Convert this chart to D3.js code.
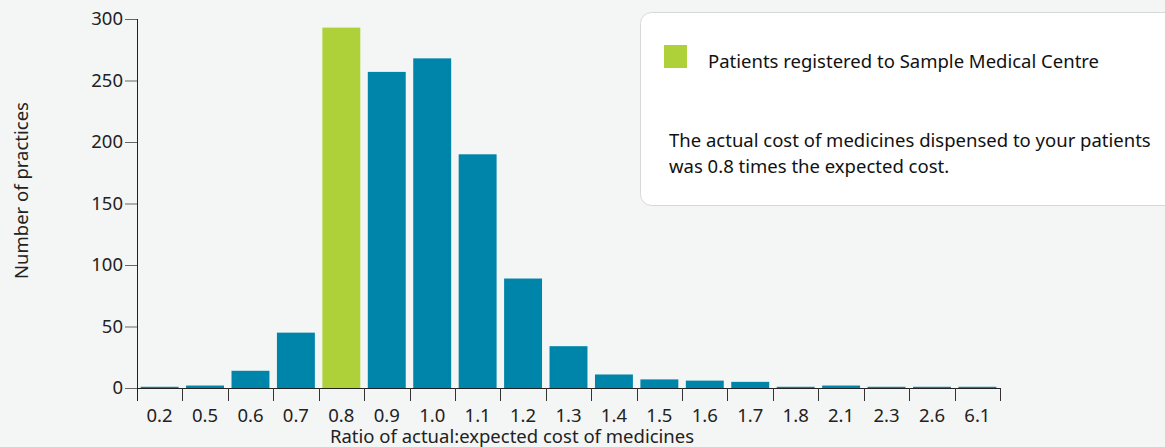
<!DOCTYPE html>
<html><head><meta charset="utf-8">
<script src="https://cdn.jsdelivr.net/npm/d3@7"></script>
<style>
html,body{margin:0;padding:0;background:#f4f6f5;}
svg{display:block;font-family:"Noto Sans",sans-serif;}
</style></head>
<body><svg id="c" width="1165" height="447"></svg>
<script>
const categories = ["0.2","0.5","0.6","0.7","0.8","0.9","1.0","1.1","1.2","1.3","1.4","1.5","1.6","1.7","1.8","2.1","2.3","2.6","6.1"];
const practiceCounts = [1,2,14,45,293,257,268,190,89,34,11,7,6,5,1,2,1,1,1];
const highlightCategory = "0.8";
const yTicks = [0,50,100,150,200,250,300];
const legendLabel = "Patients registered to Sample Medical Centre";
const noteLines = ["The actual cost of medicines dispensed to your patients","was 0.8 times the expected cost."];
const xTitle = "Ratio of actual:expected cost of medicines";
const yTitle = "Number of practices";

const svg = d3.select("#c");
const mLeft = 137, mRight = 1000, mTop = 19, base = 388;
const fs = 18.5;
const x = d3.scaleBand().domain(categories).range([mLeft, mRight]).paddingInner(0.165).paddingOuter(0.08);
const y = d3.scaleLinear().domain([0,300]).range([base, mTop]);
const blue = "#0085aa", green = "#aed038";

// bars
svg.append("g").selectAll("rect").data(categories).join("rect")
  .attr("x", d => x(d))
  .attr("width", x.bandwidth())
  .attr("y", (d,i) => y(practiceCounts[i]))
  .attr("height", (d,i) => base - y(practiceCounts[i]))
  .attr("fill", d => d === highlightCategory ? green : blue);

// y axis
const yAxis = svg.append("g").attr("transform", `translate(${mLeft},0)`)
  .call(d3.axisLeft(y).tickValues(yTicks).tickSize(12).tickPadding(2));
yAxis.select(".domain").remove();
yAxis.selectAll(".tick line").attr("stroke","#666");
yAxis.selectAll("text").attr("font-size",fs).attr("fill","#222").attr("font-family","Noto Sans");
svg.append("line").attr("x1",mLeft+0.5).attr("x2",mLeft+0.5).attr("y1",mTop).attr("y2",base+13).attr("stroke","#222");

// x axis line
svg.append("line").attr("x1",mLeft).attr("x2",mRight).attr("y1",base+0.5).attr("y2",base+0.5).attr("stroke","#222");
// boundary ticks
const bounds = d3.range(categories.length+1).map(i => mLeft + i*(mRight-mLeft)/categories.length);
svg.append("g").selectAll("line").data(bounds.slice(1)).join("line")
  .attr("x1", d => Math.round(d)+0.5).attr("x2", d => Math.round(d)+0.5)
  .attr("y1", base).attr("y2", base+13).attr("stroke","#333");
// x labels
svg.append("g").selectAll("text").data(categories).join("text")
  .attr("x", d => x(d) + x.bandwidth()/2)
  .attr("y", 421.5)
  .attr("text-anchor","middle").attr("font-size",fs).attr("fill","#222")
  .text(d => d);

svg.append("text").attr("x",512).attr("y",443).attr("text-anchor","middle")
  .attr("font-size",fs).attr("fill","#222").text(xTitle);
svg.append("text").attr("transform","translate(28,190.5) rotate(-90)").attr("text-anchor","middle")
  .attr("font-size",fs).attr("fill","#222").text(yTitle);

// legend box
svg.append("rect").attr("x",640.5).attr("y",12.5).attr("width",560).attr("height",193)
  .attr("rx",11).attr("fill","#fff").attr("stroke","#d8d8d8");
svg.append("rect").attr("x",664).attr("y",45).attr("width",23).attr("height",23).attr("fill",green);
svg.append("text").attr("x",708).attr("y",68).attr("font-size",fs).attr("fill","#111").text(legendLabel);
svg.append("g").selectAll("text").data(noteLines).join("text")
  .attr("x",669).attr("y",(d,i)=>147+i*25.5).attr("font-size",fs).attr("fill","#111").text(d=>d);
</script></body></html>
